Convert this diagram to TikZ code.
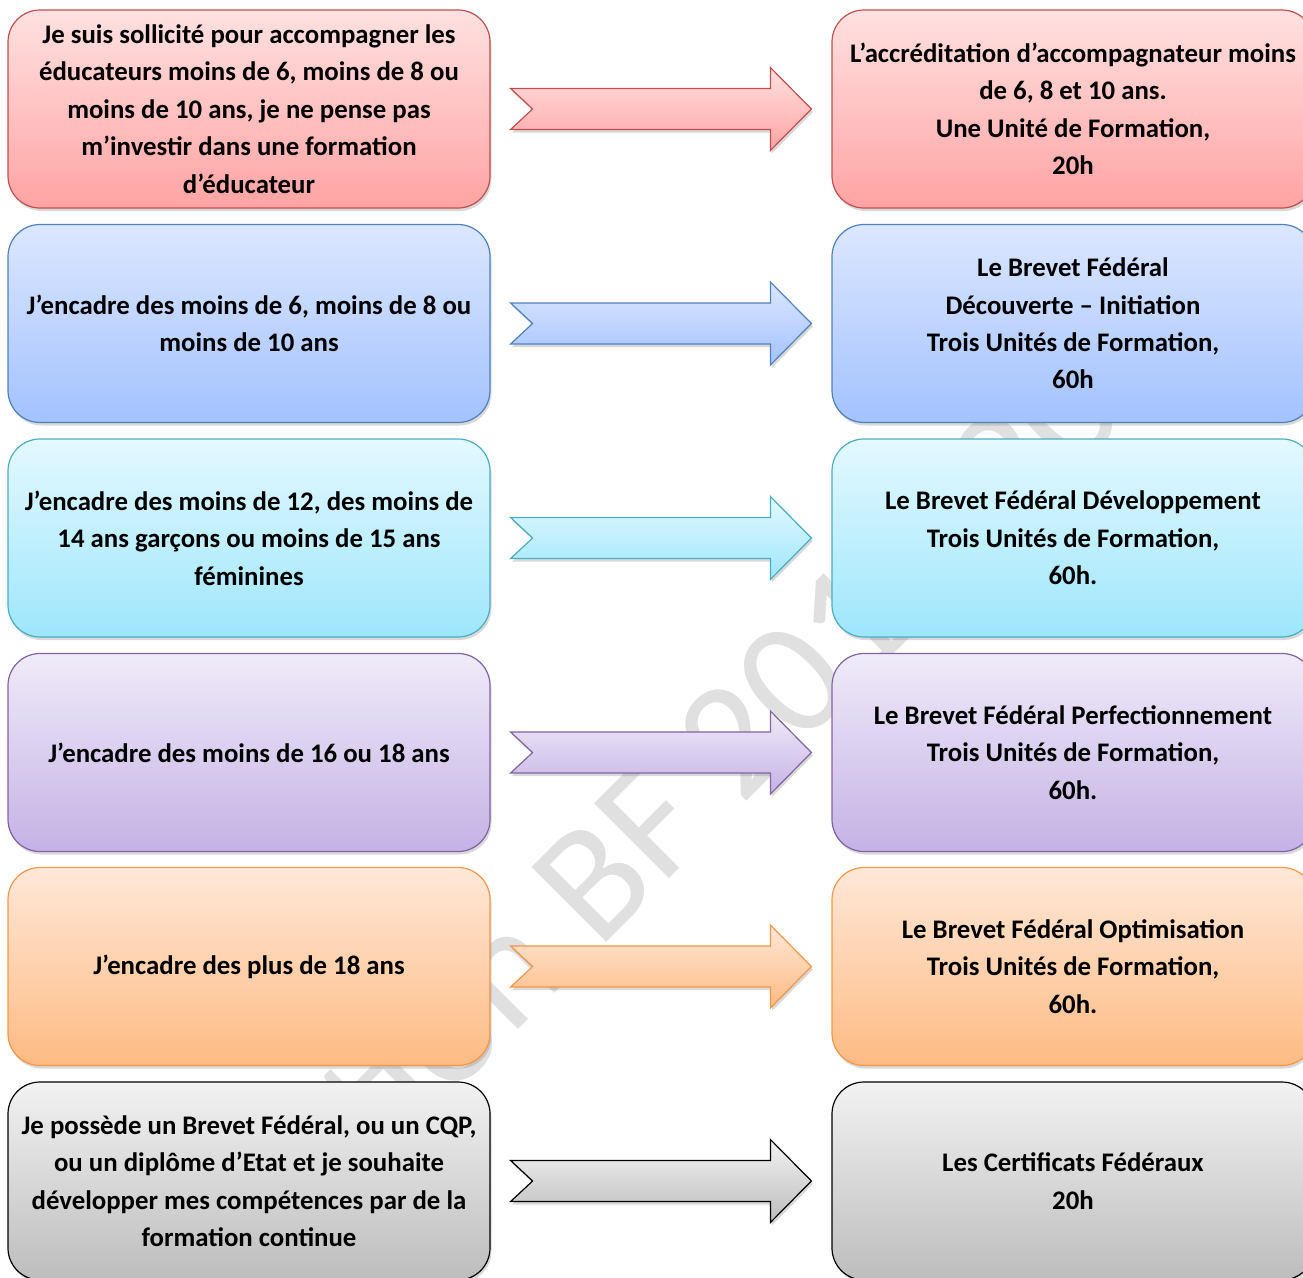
\documentclass[tikz,border=0pt]{standalone}
\usepackage{fontspec}
\setmainfont{Carlito}
\usetikzlibrary{shadows}
\definecolor{rougeA}{HTML}{FFE1E1}
\definecolor{rougeB}{HTML}{FFA3A3}
\definecolor{rougeC}{HTML}{C0504D}
\definecolor{bleuA}{HTML}{DCE7FF}
\definecolor{bleuB}{HTML}{A3C2FF}
\definecolor{bleuC}{HTML}{4F81BD}
\definecolor{cielA}{HTML}{E3F9FF}
\definecolor{cielB}{HTML}{9EE6FB}
\definecolor{cielC}{HTML}{4BACC6}
\definecolor{mauveA}{HTML}{F0EBF9}
\definecolor{mauveB}{HTML}{C4B2E5}
\definecolor{mauveC}{HTML}{8064A2}
\definecolor{abricotA}{HTML}{FFE8D8}
\definecolor{abricotB}{HTML}{FDBB83}
\definecolor{abricotC}{HTML}{F79646}
\definecolor{grisA}{HTML}{F2F2F2}
\definecolor{grisB}{HTML}{BDBDBD}
\definecolor{grisC}{HTML}{000000}
\tikzset{
	rouge/.style={top color=rougeA, bottom color=rougeB, draw=rougeC},
	bleu/.style={top color=bleuA, bottom color=bleuB, draw=bleuC},
	ciel/.style={top color=cielA, bottom color=cielB, draw=cielC},
	mauve/.style={top color=mauveA, bottom color=mauveB, draw=mauveC},
	abricot/.style={top color=abricotA, bottom color=abricotB, draw=abricotC},
	gris/.style={top color=grisA, bottom color=grisB, draw=grisC},
	ombre/.style={drop shadow={shadow xshift=1.5pt, shadow yshift=-3pt, opacity=0.3}},
	boite/.style={ombre, rounded corners=32pt, minimum width=482pt, minimum height=198pt,
		inner sep=0pt, align=center, line width=1.2pt,
		font=\fontsize{26.8}{37.4}\selectfont\bfseries},
	fleche/.style={ombre, line width=1.2pt},
	filigrane/.style={text=black!12, inner sep=0pt, font=\fontsize{165}{165}\selectfont}
}

\begin{document}
\begin{tikzpicture}[x=1pt, y=-1pt]
	\useasboundingbox (0,0) rectangle (1303,1277);
	\node[filigrane, rotate=45, anchor=base west] (fil) at (598,950) {\llap{Formation }BF 2016-2017};
	% demandes
	\node[boite, rouge] (L1) at (249,109) {Je suis sollicité pour accompagner les\\éducateurs moins de 6, moins de 8 ou\\moins de 10 ans, je ne pense pas\\m’investir dans une formation\\d’éducateur};
	\node[boite, bleu] (L2) at (249,323.5) {J’encadre des moins de 6, moins de 8 ou\\moins de 10 ans};
	\node[boite, ciel] (L3) at (249,538) {J’encadre des moins de 12, des moins de\\14 ans garçons ou moins de 15 ans\\féminines};
	\node[boite, mauve] (L4) at (249,752.5) {J’encadre des moins de 16 ou 18 ans};
	\node[boite, abricot] (L5) at (249,966.5) {J’encadre des plus de 18 ans};
	\node[boite, gris] (L6) at (249,1181) {Je possède un Brevet Fédéral, ou un CQP,\\ou un diplôme d’Etat et je souhaite\\développer mes compétences par de la\\formation continue};
	% formations
	\node[boite, rouge] (R1) at (1073,109) {L’accréditation d’accompagnateur moins\\de 6, 8 et 10 ans.\\Une Unité de Formation,\\20h};
	\node[boite, bleu] (R2) at (1073,323.5) {Le Brevet Fédéral\\Découverte – Initiation\\Trois Unités de Formation,\\60h};
	\node[boite, ciel] (R3) at (1073,538) {Le Brevet Fédéral Développement\\Trois Unités de Formation,\\60h.};
	\node[boite, mauve] (R4) at (1073,752.5) {Le Brevet Fédéral Perfectionnement\\Trois Unités de Formation,\\60h.};
	\node[boite, abricot] (R5) at (1073,966.5) {Le Brevet Fédéral Optimisation\\Trois Unités de Formation,\\60h.};
	\node[boite, gris] (R6) at (1073,1181) {Les Certificats Fédéraux\\20h};
	\foreach \i/\c in {1/rouge, 2/bleu, 3/ciel, 4/mauve, 5/abricot, 6/gris}
	\draw[fleche, \c] ([xshift=20pt, yshift=20.5pt]L\i.east) -- ([xshift=-61pt, yshift=20.5pt]R\i.west)
		-- ([xshift=-61pt, yshift=41.5pt]R\i.west) -- ([xshift=-20pt]R\i.west)
		-- ([xshift=-61pt, yshift=-41.5pt]R\i.west) -- ([xshift=-61pt, yshift=-20.5pt]R\i.west)
		-- ([xshift=20pt, yshift=-20.5pt]L\i.east) -- ([xshift=42pt]L\i.east) -- cycle;
\end{tikzpicture}
\end{document}
